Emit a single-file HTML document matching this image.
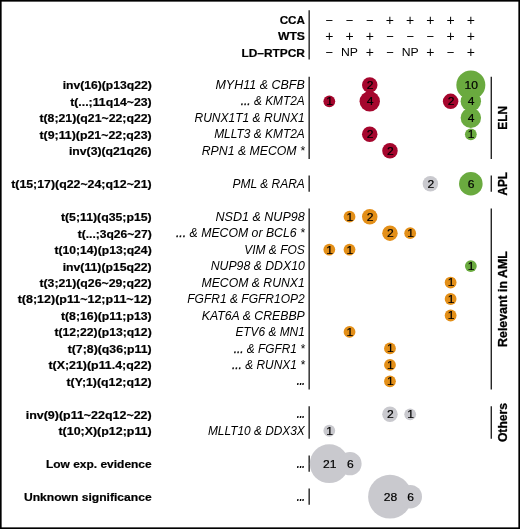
<!DOCTYPE html>
<html lang="en"><head><meta charset="utf-8"><title>Fusion genes by detection method</title>
<style>
html,body{margin:0;padding:0;background:#fff;}
body{width:520px;height:529px;overflow:hidden;}
svg{display:block;font-family:"Liberation Sans",Arial,Helvetica,sans-serif;}
.lb{font-weight:700;font-size:11.7px;text-anchor:end;fill:#000;stroke:#000;stroke-width:0.2px;}
.gn{font-style:italic;font-size:12.0px;text-anchor:end;fill:#000;}
.dt{font-weight:700;}
.ds{stroke:#000;stroke-width:0.3px;}
.hd{font-size:11.7px;text-anchor:middle;fill:#000;}
.cn{font-size:10.7px;text-anchor:middle;fill:#000;stroke:#000;stroke-width:0.2px;}
.grp{font-weight:700;font-size:12.7px;text-anchor:middle;fill:#000;stroke:#000;stroke-width:0.3px;}
.ln{stroke:#000;stroke-width:1.2;fill:none;}
</style></head><body>
<svg width="520" height="529" viewBox="0 0 520 529">
<rect x="0" y="0" width="520" height="529" fill="#fff"/>

<text class="lb" x="305.0" y="24.20" lengthAdjust="spacingAndGlyphs" textLength="25.30">CCA</text>
<text class="hd" x="329.30" y="24.98" style="font-size:13.0px">−</text>
<text class="hd" x="349.52" y="24.98" style="font-size:13.0px">−</text>
<text class="hd" x="369.74" y="24.98" style="font-size:13.0px">−</text>
<text class="hd" x="389.96" y="24.92" style="font-size:14.0px">+</text>
<text class="hd" x="410.18" y="24.92" style="font-size:14.0px">+</text>
<text class="hd" x="430.40" y="24.92" style="font-size:14.0px">+</text>
<text class="hd" x="450.62" y="24.92" style="font-size:14.0px">+</text>
<text class="hd" x="470.84" y="24.92" style="font-size:14.0px">+</text>
<text class="lb" x="305.0" y="40.45" lengthAdjust="spacingAndGlyphs" textLength="27.05">WTS</text>
<text class="hd" x="329.30" y="41.17" style="font-size:14.0px">+</text>
<text class="hd" x="349.52" y="41.17" style="font-size:14.0px">+</text>
<text class="hd" x="369.74" y="41.17" style="font-size:14.0px">+</text>
<text class="hd" x="389.96" y="41.23" style="font-size:13.0px">−</text>
<text class="hd" x="410.18" y="41.23" style="font-size:13.0px">−</text>
<text class="hd" x="430.40" y="41.23" style="font-size:13.0px">−</text>
<text class="hd" x="450.62" y="41.17" style="font-size:14.0px">+</text>
<text class="hd" x="470.84" y="41.17" style="font-size:14.0px">+</text>
<text class="lb" x="305.0" y="56.70" lengthAdjust="spacingAndGlyphs" textLength="63.55">LD–RTPCR</text>
<text class="hd" x="329.30" y="57.48" style="font-size:13.0px">−</text>
<text class="hd" x="349.52" y="56.20" lengthAdjust="spacingAndGlyphs" textLength="17">NP</text>
<text class="hd" x="369.74" y="57.42" style="font-size:14.0px">+</text>
<text class="hd" x="389.96" y="57.48" style="font-size:13.0px">−</text>
<text class="hd" x="410.18" y="56.20" lengthAdjust="spacingAndGlyphs" textLength="17">NP</text>
<text class="hd" x="430.40" y="57.42" style="font-size:14.0px">+</text>
<text class="hd" x="450.62" y="57.48" style="font-size:13.0px">−</text>
<text class="hd" x="470.84" y="57.42" style="font-size:14.0px">+</text>
<line class="ln" x1="309.15" x2="309.15" y1="10.25" y2="59.5"/>
<text class="lb" x="151.7" y="89.35" lengthAdjust="spacingAndGlyphs" textLength="89.00">inv(16)(p13q22)</text>
<text class="gn" x="304.8" y="89.00" lengthAdjust="spacingAndGlyphs" textLength="89.35">MYH11 &amp; CBFB</text>
<text class="lb" x="151.7" y="105.82" lengthAdjust="spacingAndGlyphs" textLength="81.50">t(...;11q14~23)</text>
<text class="gn" x="304.8" y="105.47" lengthAdjust="spacingAndGlyphs" textLength="64.10"><tspan class="ds">...</tspan> &amp; KMT2A</text>
<text class="lb" x="151.7" y="122.29" lengthAdjust="spacingAndGlyphs" textLength="112.25">t(8;21)(q21~22;q22)</text>
<text class="gn" x="304.8" y="121.94" lengthAdjust="spacingAndGlyphs" textLength="110.35">RUNX1T1 &amp; RUNX1</text>
<text class="lb" x="151.7" y="138.76" lengthAdjust="spacingAndGlyphs" textLength="112.25">t(9;11)(p21~22;q23)</text>
<text class="gn" x="304.8" y="138.41" lengthAdjust="spacingAndGlyphs" textLength="90.60">MLLT3 &amp; KMT2A</text>
<text class="lb" x="151.7" y="155.23" lengthAdjust="spacingAndGlyphs" textLength="82.75">inv(3)(q21q26)</text>
<text class="gn" x="304.8" y="154.88" lengthAdjust="spacingAndGlyphs" textLength="103.10">RPN1 &amp; MECOM *</text>
<text class="lb" x="151.7" y="188.17" lengthAdjust="spacingAndGlyphs" textLength="140.50">t(15;17)(q22~24;q12~21)</text>
<text class="gn" x="304.8" y="187.82" lengthAdjust="spacingAndGlyphs" textLength="72.35">PML &amp; RARA</text>
<text class="lb" x="151.7" y="221.11" lengthAdjust="spacingAndGlyphs" textLength="90.75">t(5;11)(q35;p15)</text>
<text class="gn" x="304.8" y="220.76" lengthAdjust="spacingAndGlyphs" textLength="89.35">NSD1 &amp; NUP98</text>
<text class="lb" x="151.7" y="237.58" lengthAdjust="spacingAndGlyphs" textLength="74.00">t(...;3q26~27)</text>
<text class="gn" x="304.8" y="237.23" lengthAdjust="spacingAndGlyphs" textLength="128.85"><tspan class="ds">...</tspan> &amp; MECOM or BCL6 *</text>
<text class="lb" x="151.7" y="254.05" lengthAdjust="spacingAndGlyphs" textLength="97.25">t(10;14)(p13;q24)</text>
<text class="gn" x="304.8" y="253.70" lengthAdjust="spacingAndGlyphs" textLength="60.60">VIM &amp; FOS</text>
<text class="lb" x="151.7" y="270.52" lengthAdjust="spacingAndGlyphs" textLength="89.00">inv(11)(p15q22)</text>
<text class="gn" x="304.8" y="270.17" lengthAdjust="spacingAndGlyphs" textLength="94.10">NUP98 &amp; DDX10</text>
<text class="lb" x="151.7" y="286.99" lengthAdjust="spacingAndGlyphs" textLength="112.25">t(3;21)(q26~29;q22)</text>
<text class="gn" x="304.8" y="286.64" lengthAdjust="spacingAndGlyphs" textLength="103.35">MECOM &amp; RUNX1</text>
<text class="lb" x="151.7" y="303.46" lengthAdjust="spacingAndGlyphs" textLength="134.00">t(8;12)(p11~12;p11~12)</text>
<text class="gn" x="304.8" y="303.11" lengthAdjust="spacingAndGlyphs" textLength="117.60">FGFR1 &amp; FGFR1OP2</text>
<text class="lb" x="151.7" y="319.93" lengthAdjust="spacingAndGlyphs" textLength="90.75">t(8;16)(p11;p13)</text>
<text class="gn" x="304.8" y="319.58" lengthAdjust="spacingAndGlyphs" textLength="103.10">KAT6A &amp; CREBBP</text>
<text class="lb" x="151.7" y="336.40" lengthAdjust="spacingAndGlyphs" textLength="97.25">t(12;22)(p13;q12)</text>
<text class="gn" x="304.8" y="336.05" lengthAdjust="spacingAndGlyphs" textLength="69.35">ETV6 &amp; MN1</text>
<text class="lb" x="151.7" y="352.87" lengthAdjust="spacingAndGlyphs" textLength="84.00">t(7;8)(q36;p11)</text>
<text class="gn" x="304.8" y="352.52" lengthAdjust="spacingAndGlyphs" textLength="71.10"><tspan class="ds">...</tspan> &amp; FGFR1 *</text>
<text class="lb" x="151.7" y="369.34" lengthAdjust="spacingAndGlyphs" textLength="103.25">t(X;21)(p11.4;q22)</text>
<text class="gn" x="304.8" y="368.99" lengthAdjust="spacingAndGlyphs" textLength="72.85"><tspan class="ds">...</tspan> &amp; RUNX1 *</text>
<text class="lb" x="151.7" y="385.81" lengthAdjust="spacingAndGlyphs" textLength="85.25">t(Y;1)(q12;q12)</text>
<text class="gn" x="304.8" y="385.41" lengthAdjust="spacingAndGlyphs" textLength="8.10"><tspan class="dt">...</tspan></text>
<text class="lb" x="151.7" y="418.75" lengthAdjust="spacingAndGlyphs" textLength="126.00">inv(9)(p11~22q12~22)</text>
<text class="gn" x="304.8" y="418.35" lengthAdjust="spacingAndGlyphs" textLength="8.10"><tspan class="dt">...</tspan></text>
<text class="lb" x="151.7" y="435.22" lengthAdjust="spacingAndGlyphs" textLength="93.25">t(10;X)(p12;p11)</text>
<text class="gn" x="304.8" y="434.87" lengthAdjust="spacingAndGlyphs" textLength="96.85">MLLT10 &amp; DDX3X</text>
<text class="lb" x="151.7" y="468.16" lengthAdjust="spacingAndGlyphs" textLength="105.75">Low exp. evidence</text>
<text class="gn" x="304.8" y="467.76" lengthAdjust="spacingAndGlyphs" textLength="8.10"><tspan class="dt">...</tspan></text>
<text class="lb" x="151.7" y="501.10" lengthAdjust="spacingAndGlyphs" textLength="127.75">Unknown significance</text>
<text class="gn" x="304.8" y="500.70" lengthAdjust="spacingAndGlyphs" textLength="8.10"><tspan class="dt">...</tspan></text>
<line class="ln" x1="309.15" x2="309.15" y1="76.80" y2="158.88"/>
<line class="ln" x1="491.25" x2="491.25" y1="76.80" y2="158.88"/>
<line class="ln" x1="309.15" x2="309.15" y1="175.62" y2="191.82"/>
<line class="ln" x1="491.25" x2="491.25" y1="175.62" y2="191.82"/>
<line class="ln" x1="309.15" x2="309.15" y1="208.56" y2="389.46"/>
<line class="ln" x1="491.25" x2="491.25" y1="208.56" y2="389.46"/>
<line class="ln" x1="309.15" x2="309.15" y1="406.20" y2="438.87"/>
<line class="ln" x1="491.25" x2="491.25" y1="406.20" y2="438.87"/>
<line class="ln" x1="309.15" x2="309.15" y1="455.61" y2="471.81"/>
<line class="ln" x1="309.15" x2="309.15" y1="488.55" y2="504.75"/>
<text class="grp" transform="translate(507.3,117.84) rotate(-90)" lengthAdjust="spacingAndGlyphs" textLength="23.60">ELN</text>
<text class="grp" transform="translate(507.3,183.72) rotate(-90)" lengthAdjust="spacingAndGlyphs" textLength="23.40">APL</text>
<text class="grp" transform="translate(507.3,299.01) rotate(-90)" lengthAdjust="spacingAndGlyphs" textLength="95.90">Relevant in AML</text>
<text class="grp" transform="translate(507.3,422.53) rotate(-90)" lengthAdjust="spacingAndGlyphs" textLength="39.10">Others</text>
<circle cx="329.25" cy="463.71" r="19.4" fill="#C9C9CE"/>
<circle cx="350.0" cy="463.71" r="11.6" fill="#C9C9CE"/>
<circle cx="390.0" cy="496.65" r="21.9" fill="#C9C9CE"/>
<circle cx="410.25" cy="496.65" r="11.75" fill="#C9C9CE"/>
<text class="cn" x="329.65" y="467.61" lengthAdjust="spacingAndGlyphs" textLength="13.45">21</text>
<text class="cn" x="350.40" y="467.61" lengthAdjust="spacingAndGlyphs" textLength="6.72">6</text>
<text class="cn" x="390.40" y="500.55" lengthAdjust="spacingAndGlyphs" textLength="13.45">28</text>
<text class="cn" x="410.65" y="500.55" lengthAdjust="spacingAndGlyphs" textLength="6.72">6</text>
<circle cx="369.74" cy="84.90" r="7.75" fill="#A5062D"/>
<circle cx="329.30" cy="101.37" r="5.9" fill="#A5062D"/>
<circle cx="369.74" cy="101.37" r="10.2" fill="#A5062D"/>
<circle cx="369.74" cy="134.31" r="7.75" fill="#A5062D"/>
<circle cx="389.96" cy="150.78" r="7.75" fill="#A5062D"/>
<circle cx="450.62" cy="101.37" r="7.75" fill="#A5062D"/>
<circle cx="470.84" cy="84.90" r="14.5" fill="#6AAA3F"/>
<circle cx="470.84" cy="101.37" r="10.2" fill="#6AAA3F"/>
<circle cx="470.84" cy="117.84" r="10.2" fill="#6AAA3F"/>
<circle cx="470.84" cy="134.31" r="5.9" fill="#6AAA3F"/>
<circle cx="430.40" cy="183.72" r="7.75" fill="#C9C9CE"/>
<circle cx="470.84" cy="183.72" r="11.8" fill="#6AAA3F"/>
<circle cx="349.52" cy="216.66" r="5.9" fill="#E38F18"/>
<circle cx="369.74" cy="216.66" r="7.75" fill="#E38F18"/>
<circle cx="389.96" cy="233.13" r="7.75" fill="#E38F18"/>
<circle cx="410.18" cy="233.13" r="5.9" fill="#E38F18"/>
<circle cx="329.30" cy="249.60" r="5.9" fill="#E38F18"/>
<circle cx="349.52" cy="249.60" r="5.9" fill="#E38F18"/>
<circle cx="470.84" cy="266.07" r="5.9" fill="#6AAA3F"/>
<circle cx="450.62" cy="282.54" r="5.9" fill="#E38F18"/>
<circle cx="450.62" cy="299.01" r="5.9" fill="#E38F18"/>
<circle cx="450.62" cy="315.48" r="5.9" fill="#E38F18"/>
<circle cx="349.52" cy="331.95" r="5.9" fill="#E38F18"/>
<circle cx="389.96" cy="348.42" r="5.9" fill="#E38F18"/>
<circle cx="389.96" cy="364.89" r="5.9" fill="#E38F18"/>
<circle cx="389.96" cy="381.36" r="5.9" fill="#E38F18"/>
<circle cx="389.96" cy="414.30" r="7.75" fill="#C9C9CE"/>
<circle cx="410.18" cy="414.30" r="5.9" fill="#C9C9CE"/>
<circle cx="329.30" cy="430.77" r="5.9" fill="#C9C9CE"/>
<text class="cn" x="370.14" y="88.80" lengthAdjust="spacingAndGlyphs" textLength="6.72">2</text>
<text class="cn" x="329.70" y="105.27" lengthAdjust="spacingAndGlyphs" textLength="6.72">1</text>
<text class="cn" x="370.14" y="105.27" lengthAdjust="spacingAndGlyphs" textLength="6.72">4</text>
<text class="cn" x="370.14" y="138.21" lengthAdjust="spacingAndGlyphs" textLength="6.72">2</text>
<text class="cn" x="390.36" y="154.68" lengthAdjust="spacingAndGlyphs" textLength="6.72">2</text>
<text class="cn" x="451.02" y="105.27" lengthAdjust="spacingAndGlyphs" textLength="6.72">2</text>
<text class="cn" x="471.24" y="88.80" lengthAdjust="spacingAndGlyphs" textLength="13.45">10</text>
<text class="cn" x="471.24" y="105.27" lengthAdjust="spacingAndGlyphs" textLength="6.72">4</text>
<text class="cn" x="471.24" y="121.74" lengthAdjust="spacingAndGlyphs" textLength="6.72">4</text>
<text class="cn" x="471.24" y="138.21" lengthAdjust="spacingAndGlyphs" textLength="6.72">1</text>
<text class="cn" x="430.80" y="187.62" lengthAdjust="spacingAndGlyphs" textLength="6.72">2</text>
<text class="cn" x="471.24" y="187.62" lengthAdjust="spacingAndGlyphs" textLength="6.72">6</text>
<text class="cn" x="349.92" y="220.56" lengthAdjust="spacingAndGlyphs" textLength="6.72">1</text>
<text class="cn" x="370.14" y="220.56" lengthAdjust="spacingAndGlyphs" textLength="6.72">2</text>
<text class="cn" x="390.36" y="237.03" lengthAdjust="spacingAndGlyphs" textLength="6.72">2</text>
<text class="cn" x="410.58" y="237.03" lengthAdjust="spacingAndGlyphs" textLength="6.72">1</text>
<text class="cn" x="329.70" y="253.50" lengthAdjust="spacingAndGlyphs" textLength="6.72">1</text>
<text class="cn" x="349.92" y="253.50" lengthAdjust="spacingAndGlyphs" textLength="6.72">1</text>
<text class="cn" x="471.24" y="269.97" lengthAdjust="spacingAndGlyphs" textLength="6.72">1</text>
<text class="cn" x="451.02" y="286.44" lengthAdjust="spacingAndGlyphs" textLength="6.72">1</text>
<text class="cn" x="451.02" y="302.91" lengthAdjust="spacingAndGlyphs" textLength="6.72">1</text>
<text class="cn" x="451.02" y="319.38" lengthAdjust="spacingAndGlyphs" textLength="6.72">1</text>
<text class="cn" x="349.92" y="335.85" lengthAdjust="spacingAndGlyphs" textLength="6.72">1</text>
<text class="cn" x="390.36" y="352.32" lengthAdjust="spacingAndGlyphs" textLength="6.72">1</text>
<text class="cn" x="390.36" y="368.79" lengthAdjust="spacingAndGlyphs" textLength="6.72">1</text>
<text class="cn" x="390.36" y="385.26" lengthAdjust="spacingAndGlyphs" textLength="6.72">1</text>
<text class="cn" x="390.36" y="418.20" lengthAdjust="spacingAndGlyphs" textLength="6.72">2</text>
<text class="cn" x="410.58" y="418.20" lengthAdjust="spacingAndGlyphs" textLength="6.72">1</text>
<text class="cn" x="329.70" y="434.67" lengthAdjust="spacingAndGlyphs" textLength="6.72">1</text>
<rect x="0.82" y="0.82" width="518.36" height="527.36" fill="none" stroke="#000" stroke-width="1.64"/>
</svg></body></html>
